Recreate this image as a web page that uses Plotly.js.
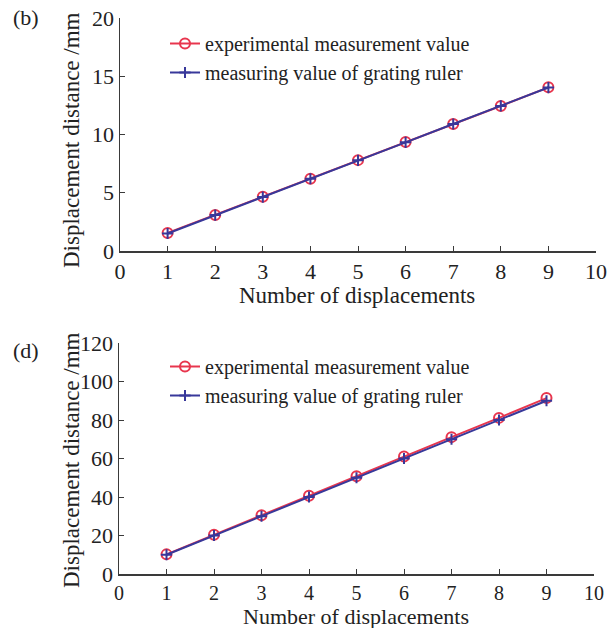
<!DOCTYPE html>
<html>
<head>
<meta charset="utf-8">
<script src="https://cdn.plot.ly/plotly-3.0.1.min.js"></script>
<style>html,body{margin:0;padding:0;background:#fff;}#chart{width:614px;height:628px;}</style>
</head>
<body>
<div id="chart"></div>
<script>
const displacements = [1, 2, 3, 4, 5, 6, 7, 8, 9];
const expB = [1.55, 3.1, 4.65, 6.2, 7.8, 9.35, 10.9, 12.45, 14.05];
const gratingB = [1.5, 3.08, 4.63, 6.2, 7.78, 9.33, 10.9, 12.45, 14.03];
const expD = [10.2, 20.4, 30.5, 40.6, 50.8, 61.0, 71.1, 81.1, 91.4];
const gratingD = [10, 20, 30, 40, 50, 60, 70, 80, 90];
const seriesNames = ["experimental measurement value", "measuring value of grating ruler"];
const panelLabels = ["(b)", "(d)"];
const xTitle = "Number of displacements";
const yTitle = "Displacement distance /mm";

const RED = "#e8364e", BLUE = "#38389a", AX = "#3a3a3a", TXT = "#222";
const FONT = "'Liberation Serif', 'Times New Roman', serif";

function expTrace(y, xa, ya, lg) {
  return {x: displacements, y: y, xaxis: xa, yaxis: ya, legend: lg, name: seriesNames[0],
    mode: "lines+markers", line: {color: RED, width: 2},
    marker: {symbol: "circle-open", size: 10, color: RED, line: {width: 2, color: RED}}};
}
function grTrace(y, xa, ya, lg) {
  return {x: displacements, y: y, xaxis: xa, yaxis: ya, legend: lg, name: seriesNames[1],
    mode: "lines+markers", line: {color: BLUE, width: 2},
    marker: {symbol: "cross-thin-open", size: 8, color: BLUE, line: {width: 2, color: BLUE}}};
}
const data = [
  expTrace(expB, "x", "y", "legend"), grTrace(gratingB, "x", "y", "legend"),
  expTrace(expD, "x2", "y2", "legend2"), grTrace(gratingD, "x2", "y2", "legend2")
];

function xax(domain, anchor, fs) {
  return {domain: domain, anchor: anchor, range: [0, 10], tickvals: [0,1,2,3,4,5,6,7,8,9,10],
    showline: true, linecolor: AX, linewidth: 1.5, ticks: "inside", ticklen: 5, tickcolor: AX,
    showgrid: false, zeroline: false, tickfont: {family: FONT, size: fs, color: TXT}};
}
function yax(domain, anchor, range, dt) {
  return {domain: domain, anchor: anchor, range: range, dtick: dt,
    showline: true, linecolor: AX, linewidth: 1.5, ticks: "inside", ticklen: 5, tickcolor: AX,
    showgrid: false, zeroline: false, tickfont: {family: FONT, size: 22, color: TXT}};
}
const legendBase = {font: {family: FONT, size: 20, color: TXT}, bgcolor: "rgba(0,0,0,0)",
  borderwidth: 0, tracegroupgap: 0, itemwidth: 30, xanchor: "left", yanchor: "top"};

function ann(text, x, y, angle, size) {
  return {text: text, xref: "paper", yref: "paper", x: x/614, y: 1 - y/628, xanchor: "center", yanchor: "middle",
    showarrow: false, textangle: angle, font: {family: FONT, size: size, color: TXT}};
}

const layout = {
  width: 614, height: 628, paper_bgcolor: "#fff", plot_bgcolor: "#fff",
  margin: {l: 0, r: 0, t: 0, b: 0},
  showlegend: true,
  xaxis: xax([120/614, 596/614], "y", 22),
  yaxis: yax([377/628, 610/628], "x", [0, 20], 5),
  xaxis2: xax([119/614, 594/614], "y2", 20),
  yaxis2: yax([54/628, 285/628], "x2", [0, 120], 20),
  legend: Object.assign({}, legendBase, {x: 165/614, y: 1 - 24/628}),
  legend2: Object.assign({}, legendBase, {x: 165/614, y: 1 - 347/628}),
  annotations: [
    ann(panelLabels[0], 26, 18, 0, 22),
    ann(panelLabels[1], 26, 350, 0, 22),
    ann(xTitle, 357, 295, 0, 23),
    ann(xTitle, 356, 616, 0, 22),
    ann(yTitle, 72, 140, -90, 23),
    ann(yTitle, 72, 460, -90, 23)
  ]
};
Plotly.newPlot("chart", data, layout, {displayModeBar: false, staticPlot: true});
</script>
</body>
</html>
